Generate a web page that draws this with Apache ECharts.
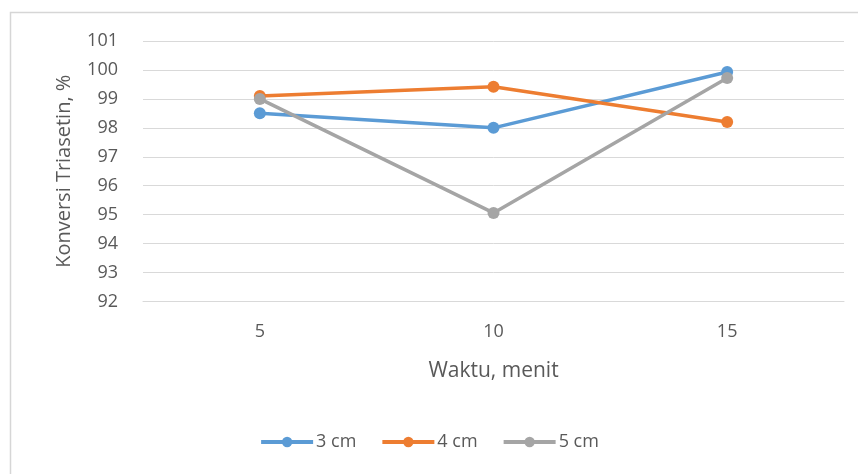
<!DOCTYPE html>
<html>
<head>
<meta charset="utf-8">
<script src="https://cdn.jsdelivr.net/npm/echarts@6/dist/echarts.min.js"></script>
<style>
  html, body { margin: 0; padding: 0; background: #fff; }
  #chart { width: 858px; height: 474px; }
</style>
</head>
<body>
<div id="chart"></div>
<script>
// Reaction time (minutes) on the category axis
const categories = ['5', '10', '15'];
// Triacetin conversion (%) for each bed height
const series3cm = [98.5, 98.0, 99.93];
const series4cm = [99.1, 99.42, 98.2];
const series5cm = [99.0, 95.06, 99.72];
const seriesNames = ['3 cm', '4 cm', '5 cm'];
const yTicks = { min: 92, max: 101, interval: 1 };

const colors = ['#5B9BD5', '#ED7D31', '#A5A5A5'];
const font = '"Open Sans", "Noto Sans", sans-serif';
const textColor = '#595959';

function lineSeries(name, data, color) {
  return {
    name: name,
    type: 'line',
    data: data,
    symbol: 'circle',
    symbolSize: 12,
    itemStyle: { color: color },
    lineStyle: { color: color, width: 3.5 },
    emphasis: { disabled: true }
  };
}

const chart = echarts.init(document.getElementById('chart'), null, { renderer: 'canvas' });
chart.setOption({
  animation: false,
  backgroundColor: '#fff',
  graphic: [{
    type: 'rect',
    shape: { x: 10.5, y: 12.5, width: 870, height: 480 },
    style: { fill: 'none', stroke: '#d6d6d6', lineWidth: 1.5 },
    silent: true
  }],
  grid: { left: 143, right: 14, top: 41, bottom: 172.5, containLabel: false },
  legend: {
    top: 428,
    left: 'center',
    itemWidth: 52,
    itemHeight: 13,
    itemGap: 24,
    lineStyle: { width: 4 },
    textStyle: { fontFamily: font, fontSize: 18, color: textColor, padding: [0, 0, 0, -2] },
    data: seriesNames
  },
  xAxis: {
    type: 'category',
    data: categories,
    boundaryGap: true,
    name: 'Waktu, menit',
    nameLocation: 'middle',
    nameGap: 59,
    nameTextStyle: { fontFamily: font, fontSize: 21, color: textColor },
    axisLine: { show: true, lineStyle: { color: '#d9d9d9', width: 1 } },
    axisTick: { show: false },
    axisLabel: { fontFamily: font, fontSize: 18, color: textColor, margin: 21 }
  },
  yAxis: {
    type: 'value',
    min: yTicks.min,
    max: yTicks.max,
    interval: yTicks.interval,
    name: 'Konversi Triasetin, %',
    nameLocation: 'middle',
    nameGap: 69,
    nameTextStyle: { fontFamily: font, fontSize: 20, color: textColor },
    axisLine: { show: false },
    axisTick: { show: false },
    splitLine: { lineStyle: { color: '#d9d9d9', width: 1 } },
    axisLabel: { fontFamily: font, fontSize: 18, color: textColor, margin: 25 }
  },
  series: [
    lineSeries(seriesNames[0], series3cm, colors[0]),
    lineSeries(seriesNames[1], series4cm, colors[1]),
    lineSeries(seriesNames[2], series5cm, colors[2])
  ]
});
</script>
</body>
</html>
